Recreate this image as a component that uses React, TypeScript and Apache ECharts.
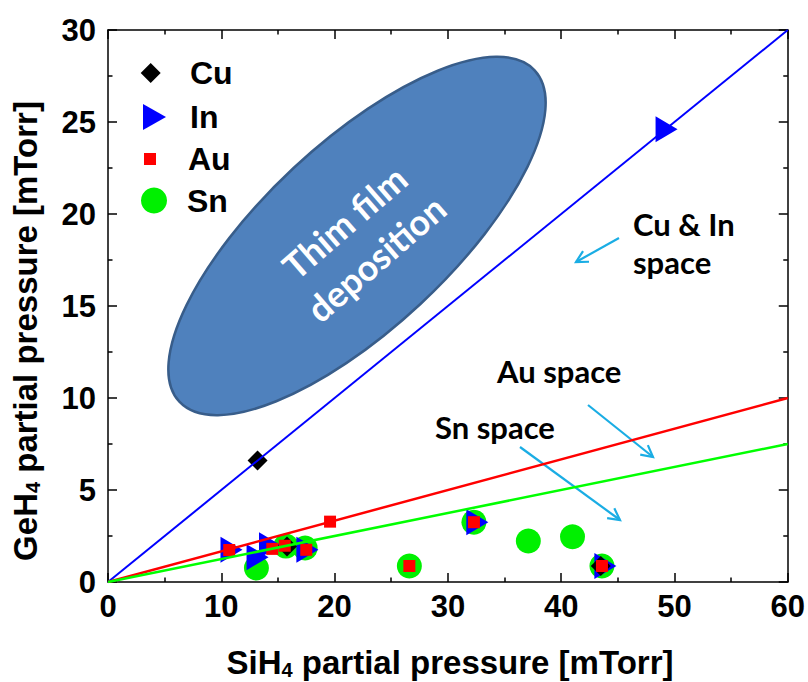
import React, { useEffect, useRef } from 'react';
import * as echarts from 'echarts';

// ---- data ----
const cuPoints = [[13.2, 6.6], [15.8, 1.93], [43.5, 0.87]];
const inPoints = [[10.9, 1.75], [13.2, 1.35], [14.3, 2.0], [17.6, 1.75], [32.6, 3.25], [43.9, 0.87], [49.3, 24.6]];
const auPoints = [[10.7, 1.74], [14.5, 1.8], [15.6, 1.97], [17.5, 1.75], [19.6, 3.28], [26.6, 0.87], [32.3, 3.25], [43.6, 0.87]];
const snPoints = [[13.1, 0.76], [15.7, 1.95], [17.4, 1.85], [26.6, 0.87], [32.3, 3.25], [37.1, 2.23], [41.0, 2.46], [43.6, 0.87]];
const cuInLine = [[0, 0], [60, 30]];
const auLine = [[0, 0], [60, 10]];
const snLine = [[0, 0], [60, 7.5]];
const legendNames = ['Cu', 'In', 'Au', 'Sn'];
const xTitleParts = ['SiH', '4', ' partial pressure [mTorr]'];
const yTitleParts = ['GeH', '4', ' partial pressure [mTorr]'];
const annotations = ['Cu & In', 'space', 'Au space', 'Sn space'];
const blobText = 'Thim film\ndeposition';

const AR = '"Liberation Sans", Arial, sans-serif';
const CAL = 'Lato, "Open Sans", sans-serif';
const ARROW = '#1AADE4';

function arrow(x1: number, y1: number, x2: number, y2: number) {
  const ang = Math.atan2(y2 - y1, x2 - x1);
  const L = 13;
  const h = (28 * Math.PI) / 180;
  const p1 = [x2 - L * Math.cos(ang - h), y2 - L * Math.sin(ang - h)];
  const p2 = [x2 - L * Math.cos(ang + h), y2 - L * Math.sin(ang + h)];
  return [
    { type: 'line', shape: { x1, y1, x2, y2 }, style: { stroke: ARROW, lineWidth: 2.2 } },
    { type: 'polyline', shape: { points: [p1, [x2, y2], p2] }, style: { stroke: ARROW, lineWidth: 2.2, fill: null } },
  ];
}

function titleRich() {
  return {
    a: { fontSize: 33, fontWeight: 'bold', fontFamily: AR, fill: '#000', lineHeight: 36 },
    s: { fontSize: 20, fontWeight: 'bold', fontFamily: AR, fill: '#000', lineHeight: 8, verticalAlign: 'bottom' },
  };
}

export default function App() {
  const ref = useRef<HTMLDivElement>(null);
  useEffect(() => {
    document.body.style.margin = '0';
    const chart = echarts.init(ref.current!, null, { renderer: 'svg' });
    const axisCommon: any = {
      type: 'value',
      axisLine: { show: true, onZero: false, lineStyle: { color: '#000', width: 1.5 } },
      axisTick: { show: true, inside: true, length: 9, lineStyle: { color: '#000', width: 1.5 } },
      minorTick: { show: true, splitNumber: 2, length: 4.5, lineStyle: { color: '#000', width: 1.5 } },
      splitLine: { show: false },
      minorSplitLine: { show: false },
    };
    const labelStyle = { fontSize: 31, fontWeight: 'bold', fontFamily: AR, color: '#000' };
    const legendCfg: any[] = [
      { w: 20, h: 20, left: 140.7, pad: 24.3, cy: 73 },
      { w: 23, h: 26, left: 143, pad: 19, cy: 117, icon: 'path://M0,0L10,5.5L0,11Z' },
      { w: 12, h: 12, left: 144, pad: 27, cy: 159 },
      { w: 26, h: 26, left: 141, pad: 15, cy: 200.5 },
    ];
    const option: any = {
      animation: false,
      grid: { left: 108, top: 30, width: 680, height: 552 },
      xAxis: [
        { ...axisCommon, min: 0, max: 60, interval: 10, position: 'bottom', axisLabel: { ...labelStyle, margin: 9 } },
        { ...axisCommon, min: 0, max: 60, interval: 10, position: 'top', axisLabel: { show: false } },
      ],
      yAxis: [
        { ...axisCommon, min: 0, max: 30, interval: 5, position: 'left', axisLabel: { ...labelStyle, margin: 12 } },
        { ...axisCommon, min: 0, max: 30, interval: 5, position: 'right', axisLabel: { show: false } },
      ],
      legend: legendNames.map((n, i) => ({
        data: [legendCfg[i].icon ? { name: n, icon: legendCfg[i].icon } : n],
        left: legendCfg[i].left,
        top: legendCfg[i].cy - 16,
        itemWidth: legendCfg[i].w,
        itemHeight: legendCfg[i].h,
        symbolKeepAspect: false,
        symbolRotate: 0,
        padding: 0,
        itemGap: 0,
        selectedMode: false,
        textStyle: { fontSize: 32, fontWeight: 'bold', fontFamily: AR, color: '#000', lineHeight: 32, padding: [0, 0, 0, legendCfg[i].pad] },
      })),
      series: [
        { name: 'Sn', type: 'scatter', data: snPoints, symbol: 'circle', symbolSize: 25, itemStyle: { color: '#00F000', opacity: 1 } },
        { name: 'In', type: 'scatter', data: inPoints, symbol: 'triangle', symbolSize: [26, 22], symbolRotate: -90, itemStyle: { color: '#0000FF', opacity: 1 } },
        { type: 'line', data: cuInLine, symbol: 'none', silent: true, lineStyle: { color: '#0000FF', width: 2 } },
        { type: 'line', data: auLine, symbol: 'none', silent: true, lineStyle: { color: '#FF0000', width: 2.5 } },
        { type: 'line', data: snLine, symbol: 'none', silent: true, lineStyle: { color: '#00FF00', width: 2.5 } },
        { name: 'Cu', type: 'scatter', data: cuPoints, symbol: 'diamond', symbolSize: 20, itemStyle: { color: '#000000', opacity: 1 } },
        { name: 'Au', type: 'scatter', data: auPoints, symbol: 'rect', symbolSize: 12, itemStyle: { color: '#FF0000', opacity: 1 } },
      ],
      graphic: [
        {
          type: 'ellipse', x: 357, y: 236, rotation: (43 * Math.PI) / 180,
          shape: { cx: 0, cy: 0, rx: 243, ry: 93 },
          style: { fill: '#4F81BD', stroke: '#385D8A', lineWidth: 2.5 },
        },
        {
          type: 'text', x: 360, y: 240, rotation: (41 * Math.PI) / 180,
          style: { text: blobText, fill: '#FFFFFF', fontSize: 36, fontWeight: 'bold', fontFamily: CAL, lineHeight: 48, align: 'center', verticalAlign: 'middle', textAlign: 'center', textVerticalAlign: 'middle' },
        },
        {
          type: 'text', x: 450, y: 662,
          style: { text: `{a|${xTitleParts[0]}}{s|${xTitleParts[1]}}{a|${xTitleParts[2]}}`, rich: titleRich(), fill: '#000', align: 'center', verticalAlign: 'middle', textAlign: 'center', textVerticalAlign: 'middle' },
        },
        {
          type: 'text', x: 25, y: 331, rotation: Math.PI / 2,
          style: { text: `{a|${yTitleParts[0]}}{s|${yTitleParts[1]}}{a|${yTitleParts[2]}}`, rich: titleRich(), fill: '#000', align: 'center', verticalAlign: 'middle', textAlign: 'center', textVerticalAlign: 'middle' },
        },
        { type: 'text', x: 633, y: 224, style: { text: annotations[0], fill: '#000', fontSize: 31, fontWeight: 'bold', fontFamily: CAL, align: 'left', verticalAlign: 'middle', textAlign: 'left', textVerticalAlign: 'middle' } },
        { type: 'text', x: 633, y: 262, style: { text: annotations[1], fill: '#000', fontSize: 31, fontWeight: 'bold', fontFamily: CAL, align: 'left', verticalAlign: 'middle', textAlign: 'left', textVerticalAlign: 'middle' } },
        { type: 'text', x: 497, y: 371, style: { text: annotations[2], fill: '#000', fontSize: 31, fontWeight: 'bold', fontFamily: CAL, align: 'left', verticalAlign: 'middle', textAlign: 'left', textVerticalAlign: 'middle' } },
        { type: 'text', x: 435, y: 427, style: { text: annotations[3], fill: '#000', fontSize: 31, fontWeight: 'bold', fontFamily: CAL, align: 'left', verticalAlign: 'middle', textAlign: 'left', textVerticalAlign: 'middle' } },
        ...arrow(619, 238, 576, 262),
        ...arrow(588, 405, 653, 457),
        ...arrow(520, 447, 620, 520),
      ],
    };
    chart.setOption(option);
    return () => chart.dispose();
  }, []);
  return <div ref={ref} style={{ width: 808, height: 682 }} />;
}
